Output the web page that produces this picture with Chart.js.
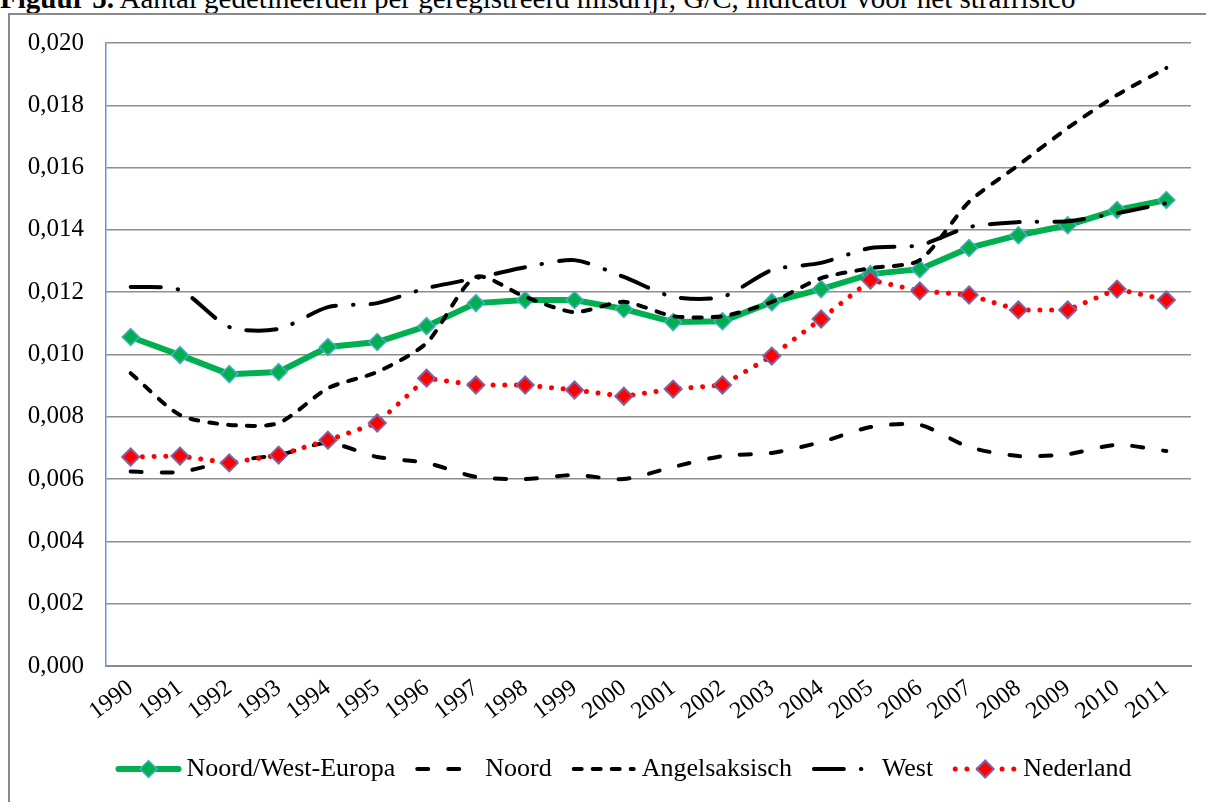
<!DOCTYPE html>
<html>
<head>
<meta charset="utf-8">
<script src="https://cdn.jsdelivr.net/npm/chart.js@4"></script>
<style>
  html, body { margin: 0; padding: 0; background: #fff; overflow: hidden; }
  #titel {
    position: absolute; left: 0; top: -16px; white-space: nowrap;
    font-family: "Liberation Serif", serif; font-size: 29px; line-height: 29px; color: #000;
  }
  #kader {
    position: absolute; left: 8px; top: 13px; width: 1300px; height: 900px;
    border: 2px solid #8a8a8a;
  }
  #grafiek { position: absolute; left: 0; top: 0; }
</style>
</head>
<body>
<div id="titel"><b>Figuur 5.</b> Aantal gedetineerden per geregistreerd misdrijf, G/C, indicator voor het strafrisico</div>
<div id="kader"></div>
<canvas id="grafiek" width="1206" height="802"></canvas>
<script>
const jaren = ['1990', '1991', '1992', '1993', '1994', '1995', '1996', '1997', '1998', '1999', '2000',
  '2001', '2002', '2003', '2004', '2005', '2006', '2007', '2008', '2009', '2010', '2011'];

const noordWestEuropa = [0.01056, 0.00998, 0.00937, 0.00944, 0.01024, 0.01040, 0.01091, 0.01165, 0.01175, 0.01175, 0.01146,
  0.01104, 0.01107, 0.01168, 0.01210, 0.01258, 0.01274, 0.01342, 0.01383, 0.01415, 0.01464, 0.01496];
const noord = [0.00624, 0.00623, 0.00658, 0.00677, 0.00716, 0.00671, 0.00652, 0.00607, 0.00600, 0.00613, 0.00600,
  0.00639, 0.00674, 0.00684, 0.00719, 0.00767, 0.00774, 0.00703, 0.00674, 0.00680, 0.00710, 0.00690];
const angelsaksisch = [0.00940, 0.00806, 0.00774, 0.00780, 0.00892, 0.00944, 0.01037, 0.01249, 0.01185, 0.01136, 0.01169,
  0.01123, 0.01123, 0.01169, 0.01245, 0.01277, 0.01303, 0.01490, 0.01608, 0.01727, 0.01833, 0.01920];
const west = [0.01217, 0.01207, 0.01088, 0.01082, 0.01152, 0.01165, 0.01213, 0.01245, 0.01280, 0.01303, 0.01249,
  0.01185, 0.01185, 0.01271, 0.01294, 0.01342, 0.01351, 0.01409, 0.01425, 0.01428, 0.01454, 0.01486];
const nederland = [0.00671, 0.00674, 0.00652, 0.00677, 0.00725, 0.00780, 0.00924, 0.00902, 0.00902, 0.00886, 0.00866,
  0.00889, 0.00902, 0.00995, 0.01114, 0.01239, 0.01204, 0.01191, 0.01143, 0.01143, 0.01210, 0.01175];

const yMin = 0, yMax = 0.020, yStap = 0.002;

const lettertype = '"Liberation Serif", "Times New Roman", serif';

// legenda onderaan, met lijnstukje en marker zoals in Excel
const legendaPlugin = {
  id: 'legenda',
  afterDraw(chart) {
    const ctx = chart.ctx;
    const sets = chart.data.datasets;
    const lijnW = 64, tussen = 6, na = 20, yMid = 769;
    ctx.save();
    ctx.font = '26px ' + lettertype;
    let totaal = 0;
    sets.forEach((ds, i) => {
      totaal += lijnW + tussen + ctx.measureText(ds.label).width;
      if (i < sets.length - 1) totaal += na;
    });
    let x = 624 - totaal / 2;
    sets.forEach(ds => {
      ctx.save();
      ctx.strokeStyle = ds.borderColor;
      ctx.lineWidth = ds.borderWidth;
      ctx.lineCap = ds.borderCapStyle || 'butt';
      ctx.setLineDash(ds.borderDash || []);
      ctx.beginPath();
      ctx.moveTo(x + 2, yMid);
      ctx.lineTo(x + lijnW - 2, yMid);
      ctx.stroke();
      ctx.restore();
      if (ds.pointRadius > 0) {
        ctx.save();
        ctx.fillStyle = ds.pointBackgroundColor;
        ctx.strokeStyle = ds.pointBorderColor;
        ctx.lineWidth = ds.pointBorderWidth;
        Chart.helpers.drawPoint(ctx, { pointStyle: 'rectRot', radius: ds.pointRadius, rotation: 0, borderWidth: ds.pointBorderWidth }, x + lijnW / 2, yMid);
        ctx.restore();
      }
      x += lijnW + tussen;
      ctx.fillStyle = '#000';
      ctx.textBaseline = 'middle';
      ctx.textAlign = 'left';
      ctx.fillText(ds.label, x, yMid);
      x += ctx.measureText(ds.label).width + na;
    });
    ctx.restore();
  }
};

new Chart(document.getElementById('grafiek'), {
  type: 'line',
  data: {
    labels: jaren,
    datasets: [
      {
        label: 'Noord/West-Europa',
        data: noordWestEuropa,
        borderColor: '#00b050',
        borderWidth: 6,
        borderCapStyle: 'round',
        pointStyle: 'rectRot',
        pointRadius: 8.5,
        pointBackgroundColor: '#00b050',
        pointBorderColor: '#4bacc6',
        pointBorderWidth: 1.5,
        tension: 0,
        order: 4
      },
      {
        label: 'Noord',
        data: noord,
        borderColor: '#000000',
        borderWidth: 4,
        borderCapStyle: 'round',
        borderDash: [11, 20],
        pointRadius: 0,
        tension: 0.25,
        order: 3
      },
      {
        label: 'Angelsaksisch',
        data: angelsaksisch,
        borderColor: '#000000',
        borderWidth: 4,
        borderCapStyle: 'round',
        borderDash: [8, 11],
        pointRadius: 0,
        tension: 0.25,
        order: 2
      },
      {
        label: 'West',
        data: west,
        borderColor: '#000000',
        borderWidth: 4,
        borderCapStyle: 'round',
        borderDash: [30, 17, 0.5, 17],
        pointRadius: 0,
        tension: 0.25,
        order: 1
      },
      {
        label: 'Nederland',
        data: nederland,
        borderColor: '#ff0000',
        borderWidth: 5,
        borderCapStyle: 'round',
        borderDash: [0.01, 11.7],
        pointStyle: 'rectRot',
        pointRadius: 8.5,
        pointBackgroundColor: '#ff0000',
        pointBorderColor: '#7f63a2',
        pointBorderWidth: 2,
        tension: 0,
        order: 0
      }
    ]
  },
  options: {
    responsive: false,
    devicePixelRatio: 1,
    animation: false,
    layout: { padding: { left: 10, right: 15, top: 43, bottom: 58 } },
    plugins: {
      legend: { display: false },
      title: { display: false },
      tooltip: { enabled: false }
    },
    scales: {
      x: {
        offset: true,
        grid: { display: false, drawTicks: false },
        border: { display: true, color: '#8a8a8a', width: 2 },
        ticks: {
          autoSkip: false,
          minRotation: 37,
          maxRotation: 37,
          padding: 8,
          color: '#000',
          font: { family: lettertype, size: 24 }
        },
        afterFit(scale) { scale.height = 78; }
      },
      y: {
        min: yMin,
        max: yMax,
        grid: { color: '#8e8e8e', lineWidth: 1.5, drawTicks: false },
        border: { display: true, color: '#6b93cf', width: 1.5 },
        ticks: {
          stepSize: yStap,
          padding: 22,
          color: '#000',
          font: { family: lettertype, size: 25 },
          callback: v => v.toFixed(3).replace('.', ',')
        },
        afterFit(scale) { scale.width = 96; }
      }
    }
  },
  plugins: [legendaPlugin]
});
</script>
</body>
</html>
